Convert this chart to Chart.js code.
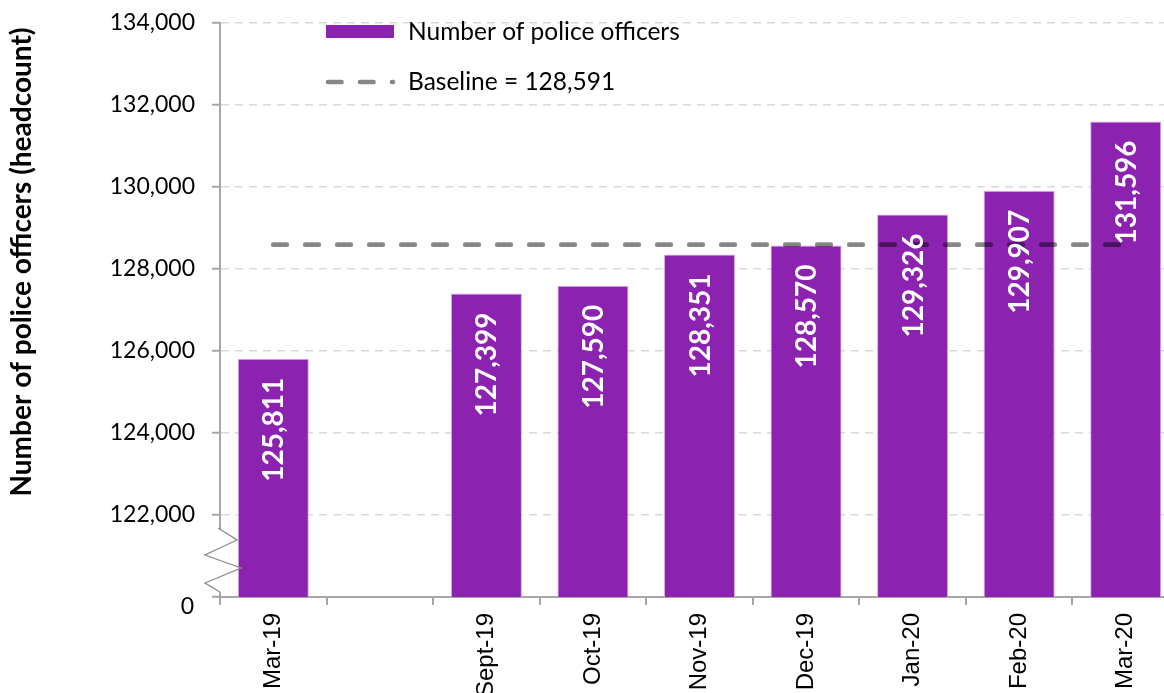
<!DOCTYPE html>
<html>
<head>
<meta charset="utf-8">
<script src="https://cdn.jsdelivr.net/npm/chart.js@4/dist/chart.umd.min.js"></script>
<style>
  html, body { margin: 0; padding: 0; background: #fff; overflow: hidden; width: 1164px; height: 693px; }
  #wrap { position: absolute; left: 0; top: -8px; }
</style>
</head>
<body>
<div id="wrap"><canvas id="c" width="1190" height="728"></canvas></div>
<script>
// ---- data ----
const categories = ["Mar-19", "", "Sept-19", "Oct-19", "Nov-19", "Dec-19", "Jan-20", "Feb-20", "Mar-20"];
const officers = [125811, null, 127399, 127590, 128351, 128570, 129326, 129907, 131596];
const baselineValue = 128591;
const baseline = [128591, 128591, 128591, 128591, 128591, 128591, 128591, 128591, 128591];
const yMin = 120000, yMax = 134000, yStep = 2000;
const barLabel = "Number of police officers";
const lineLabel = "Baseline = 128,591";
const yTitle = "Number of police officers (headcount)";

const BAR_COLOR = '#8B22B0';
const LINE_COLOR = 'rgba(0,0,0,0.47)';
const AXIS_COLOR = '#a6a6a6';
const OFF = 8; // canvas is shifted up by this many pixels
const fmt = v => v.toLocaleString('en-US');

const extrasPlugin = {
  id: 'extras',
  afterDatasetsDraw(chart) {
    const ctx = chart.ctx;
    const meta = chart.getDatasetMeta(0);
    ctx.save();
    ctx.fillStyle = '#ffffff';
    ctx.font = 'bold 28px Lato';
    ctx.textAlign = 'right';
    ctx.textBaseline = 'middle';
    meta.data.forEach((bar, i) => {
      const v = officers[i];
      if (v == null) return;
      ctx.save();
      ctx.translate(bar.x + 1, bar.y + 19);
      ctx.rotate(-Math.PI / 2);
      ctx.fillText(fmt(v), 0, 0);
      ctx.restore();
    });
    ctx.restore();
  },
  afterDraw(chart) {
    const ctx = chart.ctx;
    const area = chart.chartArea;
    const yS = chart.scales.y;
    const yb = yS.getPixelForValue(yMin);
    const ax = area.left;
    // axis break
    ctx.save();
    ctx.fillStyle = '#fff';
    ctx.fillRect(ax - 3, yb - 68, 7, 63);
    ctx.strokeStyle = '#8c8c8c';
    ctx.lineWidth = 1.3;
    ctx.beginPath();
    ctx.moveTo(ax - 2, yb - 69);
    ctx.lineTo(ax + 17, yb - 57);
    ctx.lineTo(ax - 15, yb - 42);
    ctx.lineTo(ax + 21, yb - 29);
    ctx.lineTo(ax - 15, yb - 14);
    ctx.lineTo(ax, yb - 5);
    ctx.stroke();
    ctx.restore();
    // "0" label at bottom
    ctx.save();
    ctx.fillStyle = '#000';
    ctx.font = '23px Lato';
    ctx.textAlign = 'right';
    ctx.textBaseline = 'middle';
    ctx.fillText('0', ax - 26, yb + 10);
    ctx.restore();
    // y-axis title
    ctx.save();
    ctx.fillStyle = '#000';
    ctx.font = 'bold 28px Lato';
    ctx.textAlign = 'center';
    ctx.textBaseline = 'middle';
    ctx.translate(22, 262 + OFF);
    ctx.rotate(-Math.PI / 2);
    ctx.fillText(yTitle, 0, 0);
    ctx.restore();
    // legend
    ctx.save();
    const lx = ax + 106;
    ctx.fillStyle = BAR_COLOR;
    ctx.fillRect(lx, 25 + OFF, 68, 13);
    ctx.fillStyle = '#000';
    ctx.font = '24.5px Lato';
    ctx.textAlign = 'left';
    ctx.textBaseline = 'middle';
    ctx.fillText(barLabel, lx + 82, 32 + OFF);
    ctx.fillText(lineLabel, lx + 82, 82 + OFF);
    ctx.strokeStyle = LINE_COLOR;
    ctx.lineWidth = 4.7;
    ctx.lineCap = 'round';
    ctx.setLineDash([13.5, 18.5]);
    ctx.beginPath();
    ctx.moveTo(lx + 2, 82 + OFF);
    ctx.lineTo(lx + 67, 82 + OFF);
    ctx.stroke();
    ctx.restore();
  }
};

new Chart(document.getElementById('c'), {
  data: {
    labels: categories,
    datasets: [
      {
        type: 'bar',
        label: barLabel,
        data: officers,
        backgroundColor: BAR_COLOR,
        borderColor: '#d9aee8',
        borderWidth: 1,
        barPercentage: 0.667,
        categoryPercentage: 1.0,
        order: 2
      },
      {
        type: 'line',
        label: lineLabel,
        data: baseline,
        borderColor: LINE_COLOR,
        borderWidth: 4.7,
        borderDash: [13.5, 18.5],
        borderCapStyle: 'round',
        pointRadius: 0,
        fill: false,
        order: 1
      }
    ]
  },
  options: {
    responsive: false,
    animation: false,
    devicePixelRatio: 1,
    layout: { padding: { top: 15, right: 11, left: 0, bottom: 0 } },
    plugins: { legend: { display: false }, tooltip: { enabled: false } },
    scales: {
      x: {
        type: 'category',
        offset: true,
        grid: {
          display: true,
          drawOnChartArea: false,
          offset: true,
          tickLength: 8,
          color: AXIS_COLOR,
          lineWidth: 2
        },
        border: { color: AXIS_COLOR, width: 2 },
        ticks: {
          font: { family: 'Liberation Sans', size: 24 },
          color: '#000',
          minRotation: 90,
          maxRotation: 90,
          padding: 8,
          autoSkip: false
        },
        afterFit(scale) { scale.height = 123; }
      },
      y: {
        min: yMin,
        max: yMax,
        ticks: {
          stepSize: yStep,
          font: { family: 'Lato', size: 23 },
          color: '#000',
          padding: 17,
          callback: v => (v === yMin ? '' : fmt(v))
        },
        grid: {
          color: '#d9d9d9',
          lineWidth: 1.5,
          tickLength: 8,
          tickColor: AXIS_COLOR,
          tickWidth: 2,
          tickBorderDash: []
        },
        border: { color: AXIS_COLOR, width: 2, dash: [8, 6] },
        afterFit(scale) { scale.width = 220; }
      }
    }
  },
  plugins: [extrasPlugin]
});
</script>
</body>
</html>
